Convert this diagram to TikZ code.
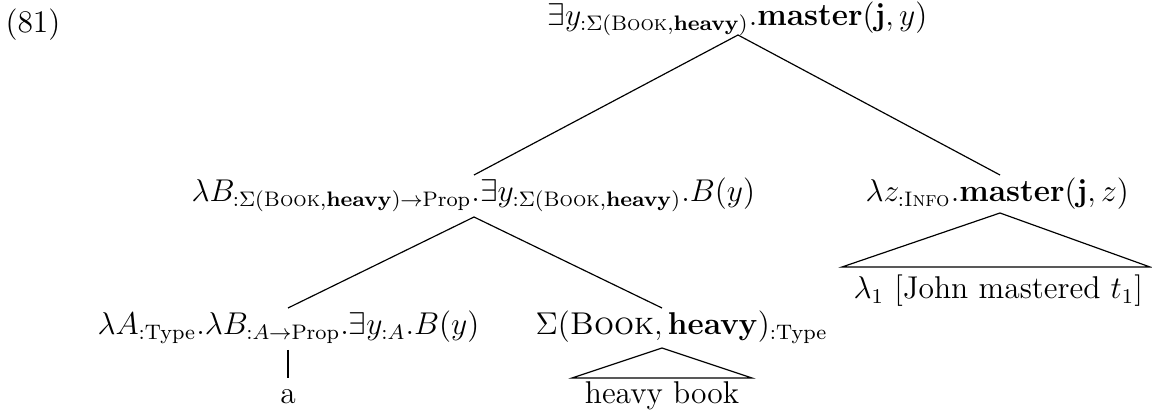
\documentclass[12pt,tikz,border=0pt]{standalone}
\usepackage{amsmath}
\begin{document}
\begin{tikzpicture}[x=0.381pt,y=-0.381pt,
  lbl/.style={inner sep=0pt,anchor=base west},
  edge/.style={draw,line width=0.45pt}]
\useasboundingbox (0,0) rectangle (1152,417);
\node[lbl] (num) at (5,33) {(81)};
\node[lbl] (root) at (547,26) {$\exists y_{:\Sigma(\textsc{Book},\mathbf{heavy})}.\mathbf{master}(\mathbf{j},y)$};
\node[lbl] (lc) at (191,202) {$\lambda B_{:\Sigma(\textsc{Book},\mathbf{heavy})\rightarrow\mathrm{Prop}}.\exists y_{:\Sigma(\textsc{Book},\mathbf{heavy})}.B(y)$};
\node[lbl] (rc) at (865,202) {$\lambda z_{:\textsc{Info}}.\mathbf{master}(\mathbf{j},z)$};
\node[lbl] (det) at (97,335) {$\lambda A_{:\mathrm{Type}}.\lambda B_{:A\rightarrow\mathrm{Prop}}.\exists y_{:A}.B(y)$};
\node[lbl] (sig) at (535,335) {$\Sigma(\textsc{Book},\mathbf{heavy})_{:\mathrm{Type}}$};
\node[lbl,anchor=base] (a) at (288,404) {a};
\node[lbl,anchor=base] (hb) at (662,404) {heavy book};
\node[lbl] (jm) at (853,299) {$\lambda_1$ [John mastered $t_1$]};
% connector points
\coordinate (root-b) at (738,35);
\coordinate (lc-t) at (474,175);
\coordinate (rc-t) at (1000,175);
\coordinate (lc-b) at (474,217);
\coordinate (det-t) at (288,308);
\coordinate (sig-t) at (662,308);
\coordinate (det-b) at (288,350);
\coordinate (a-t) at (288,378);
\coordinate (sig-b) at (662,348);
\coordinate (hb-l) at (572,378);
\coordinate (hb-r) at (752,378);
\coordinate (rc-b) at (1000,213);
\coordinate (jm-l) at (842,267);
\coordinate (jm-r) at (1150,267);
\draw[edge] (lc-t) -- (root-b) -- (rc-t);
\draw[edge] (det-t) -- (lc-b) -- (sig-t);
\draw[edge] (det-b) -- (a-t);
\draw[edge] (sig-b) -- (hb-l) -- (hb-r) -- cycle;
\draw[edge] (rc-b) -- (jm-l) -- (jm-r) -- cycle;
\end{tikzpicture}
\end{document}
